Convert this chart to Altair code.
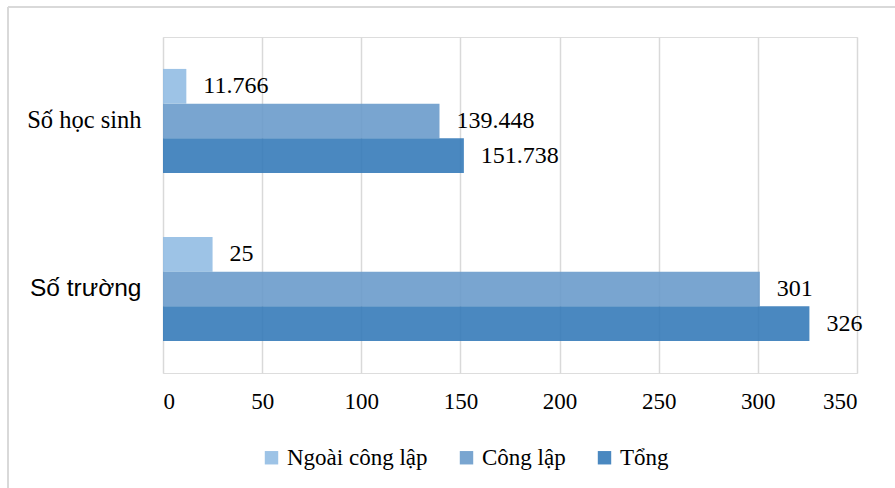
import altair as alt
import pandas as pd

categories = ["Số học sinh", "Số trường"]
series = ["Ngoài công lập", "Công lập", "Tổng"]
so_hoc_sinh = [11.766, 139.448, 151.738]
so_truong = [25, 301, 326]
labels_hoc_sinh = ["11.766", "139.448", "151.738"]
labels_truong = ["25", "301", "326"]
colors = ["#90bbe3", "#6699c9", "#3178b7"]

rows = []
for s, v, lab in zip(series, so_hoc_sinh, labels_hoc_sinh):
    rows.append({"cat": categories[0], "series": s, "value": v, "label": lab})
for s, v, lab in zip(series, so_truong, labels_truong):
    rows.append({"cat": categories[1], "series": s, "value": v, "label": lab})
df = pd.DataFrame(rows)

SERIF = "Liberation Serif"
SANS = "Liberation Sans"

x_enc = alt.X(
    "value:Q",
    scale=alt.Scale(domain=[0, 350], nice=False),
    axis=alt.Axis(
        values=[0, 50, 100, 150, 200, 250, 300, 350],
        title=None, domain=False, ticks=False,
        grid=True, gridColor="#d9d9d9", gridWidth=1.5,
        labelFont=SERIF, labelFontSize=23, labelColor="#000000",
        labelPadding=17,
    ),
)
y_enc = alt.Y(
    "cat:N",
    sort=categories,
    scale=alt.Scale(paddingInner=0.38, paddingOuter=0.19),
    axis=alt.Axis(
        title=None, domain=False, ticks=False, grid=False,
        labelFont={"condition": {"test": "datum.value == 'Số trường'", "value": SANS},
                   "value": SERIF},
        labelFontSize=24.5, labelColor="#000000", labelPadding=22,
    ),
)
yoff = alt.YOffset("series:N", sort=series)

bars = alt.Chart(df).mark_bar(opacity=0.88).encode(
    x=x_enc,
    y=y_enc,
    yOffset=yoff,
    color=alt.Color(
        "series:N",
        sort=series,
        scale=alt.Scale(domain=series, range=colors),
        legend=alt.Legend(
            title=None, orient="none", direction="horizontal",
            legendX=97, legendY=409,
            symbolType="square", symbolSize=180, symbolStrokeWidth=0,
            symbolOpacity=0.88,
            labelFont=SERIF, labelFontSize=23, labelColor="#000000",
            columnPadding=27, labelOffset=4,
        ),
    ),
)

texts = alt.Chart(df).mark_text(
    align="left", baseline="middle", dx=17, font=SERIF, fontSize=24, color="#000000"
).encode(
    x="value:Q",
    y=alt.Y("cat:N", sort=categories),
    yOffset=alt.YOffset("series:N", sort=series),
    text="label:N",
)

# light frame around the whole figure (top and left edges)
frame_top = alt.Chart(df).mark_rule(color="#d9d9d9", strokeWidth=2).encode(
    x=alt.value(-155), x2=alt.value(740), y=alt.value(-30)
)
frame_left = alt.Chart(df).mark_rule(color="#d9d9d9", strokeWidth=2).encode(
    x=alt.value(-155), y=alt.value(-30), y2=alt.value(460)
)

chart = alt.layer(bars, texts, frame_top, frame_left).properties(
    width=694,
    height=336,
    autosize=alt.AutoSizeParams(type="none"),
    padding={"left": 163, "top": 37, "right": 38, "bottom": 115},
).configure_view(stroke=None).configure(background="#ffffff")

chart.save("out.html", embed_options={"renderer": "svg", "actions": False})
